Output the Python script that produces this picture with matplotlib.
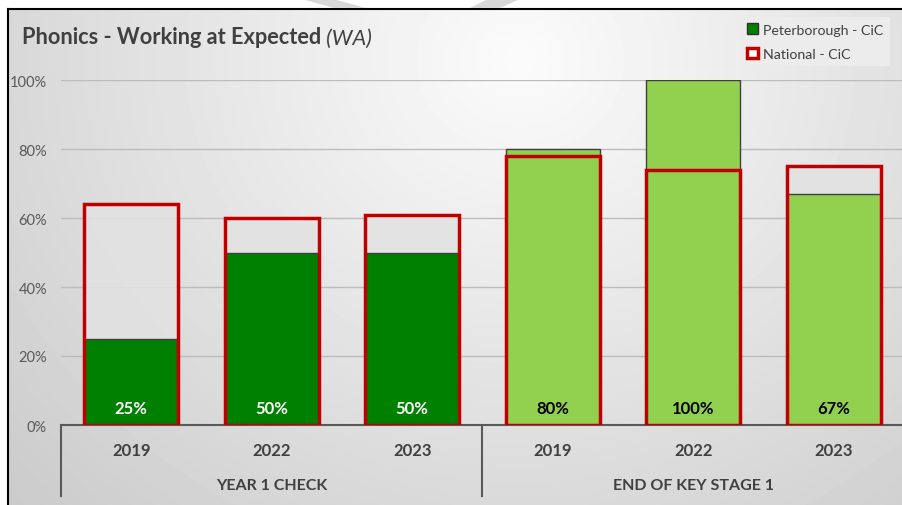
import numpy as np
import matplotlib.pyplot as plt
from matplotlib.patches import Patch, Polygon

# dados do grafico
years = ["2019", "2022", "2023", "2019", "2022", "2023"]
groups = ["YEAR 1 CHECK", "END OF KEY STAGE 1"]
peterborough = [25, 50, 50, 80, 100, 67]
national = [64, 60, 61, 78, 74, 75]
pb_colors = ["#008000", "#008000", "#008000", "#92D050", "#92D050", "#92D050"]
label_colors = ["white", "white", "white", "black", "black", "black"]

plt.rcParams['font.family'] = ['Lato', 'DejaVu Sans']

W, H = 903, 506
fig = plt.figure(figsize=(W / 100, H / 100), dpi=100)
fig.patch.set_facecolor("white")

# fundo em degrade
bg = fig.add_axes([8 / W, 0, 1 - 8 / W, 1 - 10 / H], zorder=-10)
yy, xx = np.mgrid[10:H, 8:W]
dist = np.sqrt((xx - 520) ** 2 + ((yy - 60) * 1.1) ** 2)
img = np.clip(0.985 - 0.00027 * dist, 0.74, 1.0)
bg.imshow(img, cmap="gray", vmin=0, vmax=1, aspect="auto", extent=[0, 1, 0, 1],
          interpolation="bilinear")
bg.set_xlim(0, 1)
bg.set_ylim(0, 1)
bg.set_xticks([])
bg.set_yticks([])
for s in ["right", "bottom"]:
    bg.spines[s].set_visible(False)
bg.spines["left"].set_color("black")
bg.spines["top"].set_color("black")
bg.spines["left"].set_linewidth(1.5)
bg.spines["top"].set_linewidth(1.5)

# marca d'agua no topo
def px(x, y):
    return (x / W, 1 - y / H)

fig.add_artist(Polygon([px(302, 0), px(333, 0), px(366, 9), px(334, 9)],
                       closed=True, color="#d8d8d8", transform=fig.transFigure, lw=0))
fig.add_artist(Polygon([px(488, 0), px(520, 0), px(500, 9), px(470, 9)],
                       closed=True, color="#d8d8d8", transform=fig.transFigure, lw=0))

ax = fig.add_axes([61 / W, 1 - 426 / H, (904 - 61) / W, (426 - 81) / H])
ax.set_facecolor("none")

x = np.arange(len(years))
bw = 0.67

ax.bar(x, national, width=bw, color="#e2e2e2", alpha=0.85, zorder=2, lw=0)
ax.bar(x, peterborough, width=bw, color=pb_colors, edgecolor="#404040", lw=1, zorder=3)
ax.bar(x, national, width=bw, fill=False, edgecolor="#C00000", lw=2.5, zorder=4)

for i, v in enumerate(peterborough):
    ax.text(x[i], 5, f"{v}%", ha="center", va="center", fontsize=12,
            fontweight="bold", color=label_colors[i], zorder=5)

ax.set_xlim(-0.5, len(years) - 0.5)
ax.set_ylim(0, 100)
ax.set_yticks([0, 20, 40, 60, 80, 100])
ax.set_yticklabels(["0%", "20%", "40%", "60%", "80%", "100%"])
ax.tick_params(axis="y", length=0, labelsize=10.5, labelcolor="#595959", pad=10)
ax.set_xticks([])
ax.grid(axis="y", color="#bcbcbc", lw=1, zorder=0)
for s in ["top", "right", "left"]:
    ax.spines[s].set_visible(False)
ax.spines["bottom"].set_color("#595959")
ax.spines["bottom"].set_linewidth(1.5)

# rotulos das categorias
trans = ax.get_xaxis_transform()
for i, yr in enumerate(years):
    ax.text(x[i], -0.072, yr, transform=trans, ha="center", va="center",
            fontsize=12, fontweight="bold", color="#404040")
ax.text(1, -0.175, groups[0], transform=trans, ha="center", va="center",
        fontsize=11.5, fontweight="bold", color="#404040")
ax.text(4, -0.175, groups[1], transform=trans, ha="center", va="center",
        fontsize=11.5, fontweight="bold", color="#404040")
for xl in [-0.5, 2.5]:
    ax.plot([xl, xl], [0, -0.206], transform=trans, color="#595959", lw=1.5,
            clip_on=False)

# titulo
t1 = fig.text(22 / W, 1 - 38 / H, "Phonics - Working at Expected", fontsize=15.7,
              fontweight="bold", color="#404040", va="center")
ax.annotate(" (WA)", xy=(1, 0), xycoords=t1, va="bottom", fontsize=15.7,
            style="italic", color="#404040", annotation_clip=False)

# legenda
handles = [Patch(facecolor="#008000", edgecolor="#303030", lw=1),
           Patch(facecolor="white", edgecolor="#C00000", lw=2.5)]
fig.legend(handles, ["Peterborough - CiC", "National - CiC"],
           loc="upper left", bbox_to_anchor=(734 / W, 1 - 11 / H),
           fontsize=10.2, frameon=True, facecolor="#ececec", edgecolor="none",
           framealpha=1, handlelength=0.75, handleheight=0.75, handletextpad=0.35,
           labelspacing=0.85, borderpad=0.45, labelcolor="#404040", fancybox=False)

fig.savefig("out.png", dpi=100)
